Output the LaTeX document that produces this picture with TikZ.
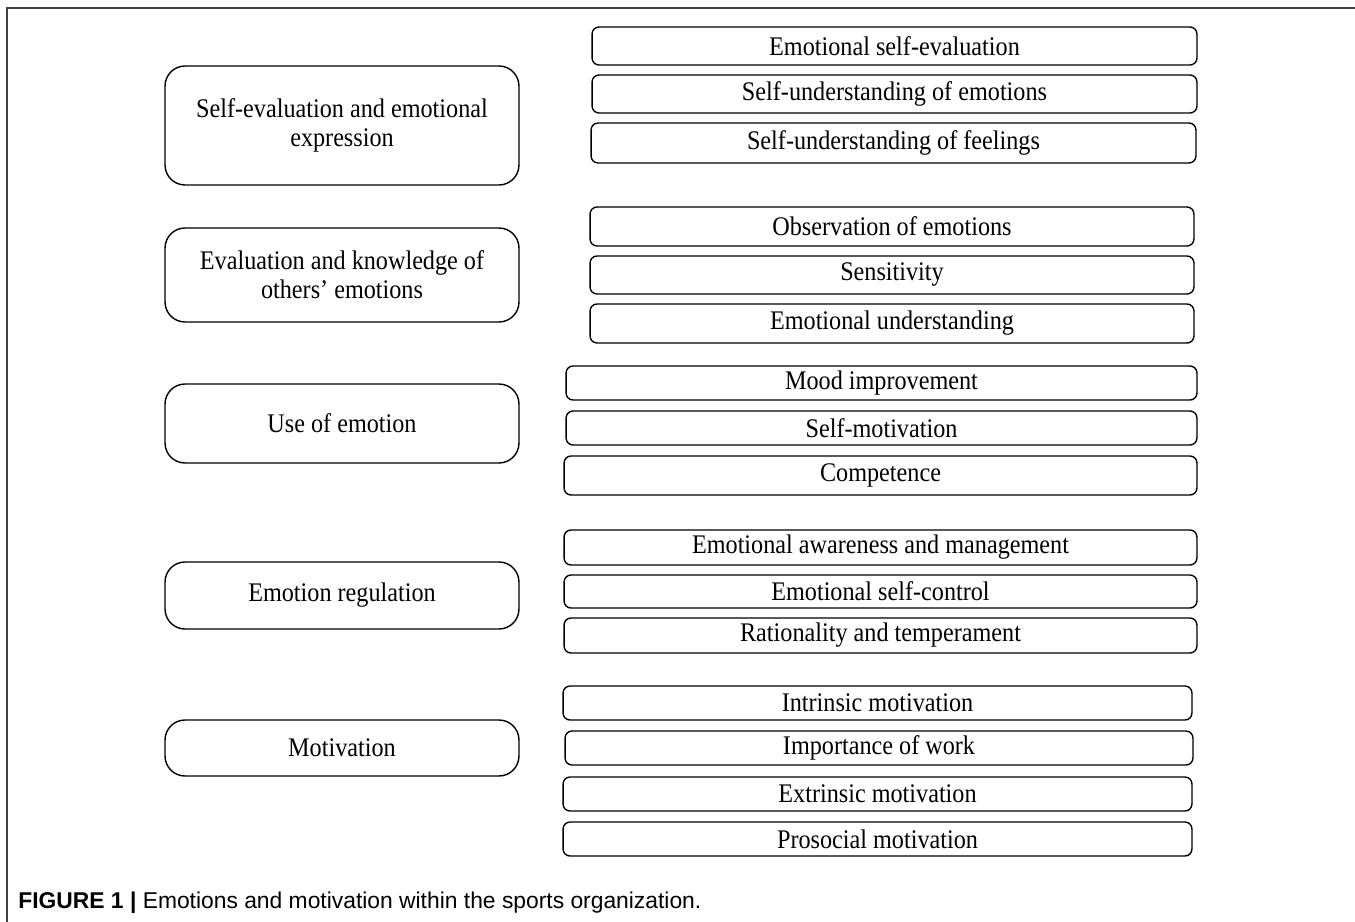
\documentclass[tikz,border=0pt]{standalone}
\usepackage{fontspec}
\setmainfont[FakeStretch=0.9]{Liberation Serif}
\newfontfamily\capfont{Liberation Sans}
\begin{document}
\begin{tikzpicture}[
    x=0.02cm, y=-0.02cm,
    topic/.style={rectangle, draw, line width=0.8pt, rounded corners=4mm,
        minimum width=7.08cm, align=center, inner sep=0pt,
        font=\fontsize{15.3}{16.5}\selectfont},
    facet/.style={rectangle, draw, line width=0.8pt, rounded corners=1.4mm,
        align=center, inner sep=0pt, font=\fontsize{15.3}{16.5}\selectfont},
    frame/.style={line width=1.1pt, draw=black!75}
]
\useasboundingbox (0,0) rectangle (1355,922);
\draw[frame] (7,922) -- (7,8) -- (1355,8);

% left column
\node (Topic01) [topic, minimum height=2.38cm] at (342,125.5)
  {Self-evaluation and emotional\\expression};
\node (Topic02) [topic, minimum height=1.88cm] at (342,275)
  {Evaluation and knowledge of\\others' emotions};
\node (Topic03) [topic, minimum height=1.58cm] at (342,423.5) {Use of emotion};
\node (Topic04) [topic, minimum height=1.34cm] at (342,595.5) {Emotion regulation};
\node (Topic05) [topic, minimum height=1.12cm] at (342,748) {Motivation};

% right column
\node (Facet01) [facet, minimum width=12.1cm, minimum height=0.76cm] at (894.5,46)
  {Emotional self-evaluation};
\node (Facet02) [facet, minimum width=12.1cm, minimum height=0.76cm] at (894.5,94)
  {Self-understanding of emotions};
\node (Facet03) [facet, minimum width=12.1cm, minimum height=0.8cm] at (893.5,143)
  {Self-understanding of feelings};

\node (Facet04) [facet, minimum width=12.08cm, minimum height=0.78cm] at (892,226.5)
  {Observation of emotions};
\node (Facet05) [facet, minimum width=12.08cm, minimum height=0.76cm] at (892,275)
  {Sensitivity};
\node (Facet06) [facet, minimum width=12.08cm, minimum height=0.78cm] at (892,323.5)
  {Emotional understanding};

\node (Facet07) [facet, minimum width=12.62cm, minimum height=0.68cm] at (881.5,383)
  {Mood improvement};
\node (Facet08) [facet, minimum width=12.62cm, minimum height=0.68cm] at (881.5,428)
  {Self-motivation};
\node (Facet09) [facet, minimum width=12.66cm, minimum height=0.78cm] at (880.5,475.5)
  {Competence};

\node (Facet10) [facet, minimum width=12.66cm, minimum height=0.7cm] at (880.5,547.5)
  {Emotional awareness and management};
\node (Facet11) [facet, minimum width=12.66cm, minimum height=0.66cm] at (880.5,591.5)
  {Emotional self-control};
\node (Facet12) [facet, minimum width=12.66cm, minimum height=0.7cm] at (880.5,635.5)
  {Rationality and temperament};

\node (Facet13) [facet, minimum width=12.58cm, minimum height=0.68cm] at (877.5,703)
  {Intrinsic motivation};
\node (Facet14) [facet, minimum width=12.56cm, minimum height=0.68cm] at (879,748)
  {Importance of work};
\node (Facet15) [facet, minimum width=12.58cm, minimum height=0.68cm] at (877.5,794)
  {Extrinsic motivation};
\node (Facet16) [facet, minimum width=12.58cm, minimum height=0.68cm] at (877.5,839)
  {Prosocial motivation};

% caption
\node (Caption) [anchor=base west, inner sep=0pt,
    font=\capfont\fontsize{13}{15}\selectfont] at (18,908)
  {\textbf{FIGURE 1 |} Emotions and motivation within the sports organization.};
\end{tikzpicture}
\end{document}
